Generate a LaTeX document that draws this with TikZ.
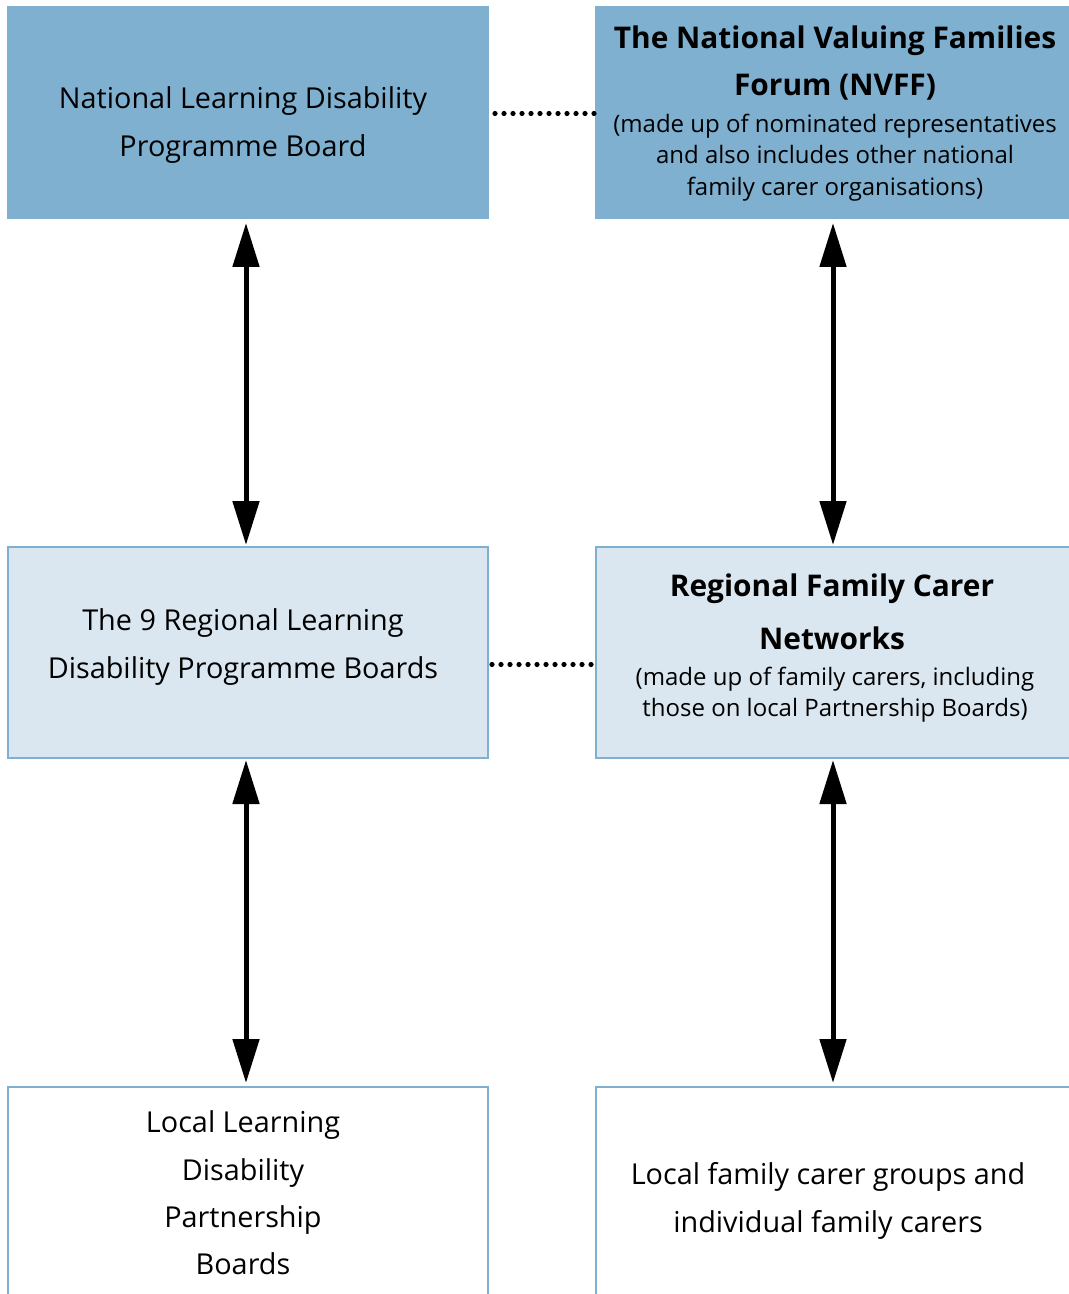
\documentclass[tikz,border=0pt]{standalone}
\usepackage{fontspec}
\setmainfont{Open Sans}
\usetikzlibrary{arrows.meta,fit}
\definecolor{darkfill}{HTML}{7FB0CF}
\definecolor{lightfill}{HTML}{DAE7F0}
\definecolor{edgeblue}{HTML}{7FB0CF}
\begin{document}
\begin{tikzpicture}[x=0.75pt,y=-0.75pt,
  boxbase/.style={inner sep=0pt,line width=1.5pt},
  darkbox/.style={boxbase,fill=darkfill},
  lightbox/.style={boxbase,fill=lightfill,draw=edgeblue},
  whitebox/.style={boxbase,fill=white,draw=edgeblue},
  maintext/.style={align=center,font=\fontsize{21.6}{35.5}\selectfont,inner sep=0pt},
  boldtext/.style={align=center,font=\fontsize{22.4}{35.5}\selectfont\bfseries,inner sep=0pt},
  smalltext/.style={align=center,font=\fontsize{18}{23.7}\selectfont,inner sep=0pt},
  arr/.style={line width=3.75pt,{Triangle[length=33pt,width=19.5pt]}-{Triangle[length=33pt,width=19.5pt]}},
  dotline/.style={line width=3.9pt,line cap=round,dash pattern=on 0pt off 6.75pt}]
\useasboundingbox (0,0) rectangle (1069,1294);
\clip (0,0) rectangle (1069,1294);
\fill[white] (0,0) rectangle (1069,1294);
% boxes
\node[darkbox,fit={(7,6) (489,219)}] (b1) {};
\node[darkbox,fit={(595,6) (1071,219)}] (b2) {};
\node[lightbox,fit={(8,547) (488,758)}] (b3) {};
\node[lightbox,fit={(596,547) (1070,758)}] (b4) {};
\node[whitebox,fit={(8,1087) (488,1310)}] (b5) {};
\node[whitebox,fit={(596,1087) (1070,1310)}] (b6) {};
% texts
\node[maintext] (t1) at (243,125) {National Learning Disability\\Programme Board};
\node[boldtext] (t2a) at (835,63) {The National Valuing Families\\Forum (NVFF)};
\node[smalltext] (t2b) at (835,157.5) {(made up of nominated representatives\\and also includes other national\\family carer organisations)};
\node[maintext] (t3) at (243,647) {The 9 Regional Learning\\Disability Programme Boards};
\node[boldtext,font=\fontsize{22.4}{39.75}\selectfont\bfseries] (t4a) at (832,611.5) {Regional Family Carer\\Networks};
\node[smalltext] (t4b) at (835,694.5) {(made up of family carers, including\\those on local Partnership Boards)};
\node[maintext] (t5) at (243,1193) {Local Learning\\Disability\\Partnership\\Boards};
\node[maintext] (t6) at (828,1201) {Local family carer groups and\\individual family carers};
% connectors
\draw[arr] ([shift={(-2,3)}]b1.south) -- ([shift={(-2,-1)}]b3.north);
\draw[arr] ([shift={(0,3)}]b2.south) -- ([shift={(0,-1)}]b4.north);
\draw[arr] ([shift={(-2,1)}]b3.south) -- ([shift={(-2,-3)}]b5.north);
\draw[arr] ([shift={(0,1)}]b4.south) -- ([shift={(0,-3)}]b6.north);
\draw[dotline] ([shift={(5,1)}]b1.east) -- ([shift={(1.5,1)}]b2.west);
\draw[dotline] ([shift={(3,12)}]b3.east) -- ([shift={(-3,12)}]b4.west);
\end{tikzpicture}
\end{document}
